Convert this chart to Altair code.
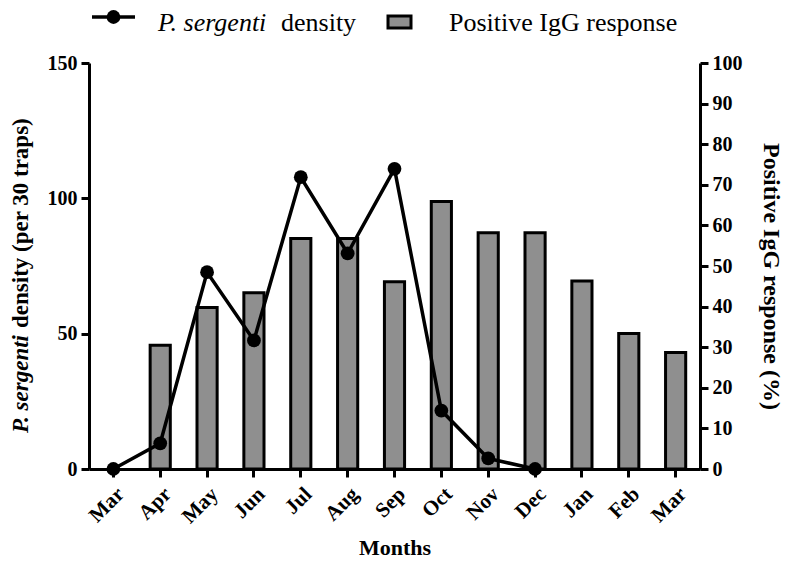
import altair as alt
import pandas as pd

months = ["Mar", "Apr", "May", "Jun", "Jul", "Aug", "Sep", "Oct", "Nov", "Dec", "Jan", "Feb", "Mar"]
density = [0, 9.5, 72.7, 47.5, 107.8, 79.7, 110.9, 21.6, 3.9, 0, None, None, None]
igg = [None, 30.5, 39.8, 43.4, 56.8, 56.8, 46.1, 65.9, 58.2, 58.2, 46.3, 33.4, 28.7]

idx = list(range(len(months)))
df = pd.DataFrame({"i": idx, "month": months, "density": density, "igg": igg})

FONT = "Liberation Serif"
label_expr = "[" + ",".join("'%s'" % m for m in months) + "][datum.value]"

xscale = alt.Scale(paddingInner=0.57, paddingOuter=0.305)
xaxis = alt.Axis(
    title="Months", labelExpr=label_expr, labelAngle=-45, labelFontSize=21,
    labelFontWeight="bold", labelFont=FONT, labelPadding=6,
    titleFontSize=22, titleFont=FONT, titleFontWeight="bold", titlePadding=11,
)

bars = alt.Chart(df).mark_bar(color="#8f8f8f", stroke="black", strokeWidth=3).encode(
    x=alt.X("i:O", scale=xscale, axis=xaxis),
    y=alt.Y("igg:Q", scale=alt.Scale(domain=[0, 100], nice=False),
            axis=alt.Axis(orient="right", values=list(range(0, 101, 10)),
                          title="Positive IgG response (%)", titleAngle=90,
                          titleFontSize=24, titleFont=FONT, titleFontWeight="bold",
                          titlePadding=16, titleBaseline="bottom", titleY=213)),
)

line = alt.Chart(df).mark_line(color="black", strokeWidth=3.5, point=alt.OverlayMarkDef(
    filled=True, color="black", size=190, opacity=1)).encode(
    x=alt.X("i:O", scale=xscale, axis=xaxis),
    y=alt.Y("density:Q", scale=alt.Scale(domain=[0, 150], nice=False),
            axis=alt.Axis(orient="left", values=[0, 50, 100, 150], title=None)),
)

one = pd.DataFrame({"k": [0]})

# left axis title (mixed italic)
lt1 = alt.Chart(one).mark_text(text="P. sergenti", font=FONT, fontSize=23, fontWeight="bold",
                               fontStyle="italic", angle=270, align="left", baseline="middle").encode(
    x=alt.value(-68), y=alt.value(370))
lt2 = alt.Chart(one).mark_text(text="density (per 30 traps)", font=FONT, fontSize=23, fontWeight="bold",
                               angle=270, align="left", baseline="middle").encode(
    x=alt.value(-68), y=alt.value(265))

# legend
leg_rule = alt.Chart(one).mark_rule(color="black", strokeWidth=3.5).encode(
    x=alt.value(3), x2=alt.value(46), y=alt.value(-46))
leg_pt = alt.Chart(one).mark_point(filled=True, color="black", size=190, opacity=1).encode(
    x=alt.value(24.5), y=alt.value(-46))
leg_t1 = alt.Chart(one).mark_text(text="P. sergenti", font=FONT, fontSize=26, fontStyle="italic",
                                  align="left", baseline="alphabetic").encode(
    x=alt.value(69), y=alt.value(-32))
leg_t2 = alt.Chart(one).mark_text(text="density", font=FONT, fontSize=26,
                                  align="left", baseline="alphabetic").encode(
    x=alt.value(192), y=alt.value(-32))
leg_rect = alt.Chart(one).mark_rect(color="#8f8f8f", stroke="black", strokeWidth=3).encode(
    x=alt.value(299), x2=alt.value(322), y=alt.value(-47), y2=alt.value(-35))
leg_t3 = alt.Chart(one).mark_text(text="Positive IgG response", font=FONT, fontSize=26,
                                  align="left", baseline="alphabetic").encode(
    x=alt.value(360), y=alt.value(-32))

chart = alt.layer(bars, line, lt1, lt2, leg_rule, leg_pt, leg_t1, leg_t2, leg_rect, leg_t3).resolve_scale(
    y="independent"
).properties(
    width=611, height=406,
    autosize=alt.AutoSizeParams(type="none"),
    padding={"left": 81, "top": 55, "right": 92, "bottom": 90},
).configure_view(stroke=None).configure_axis(
    domainColor="black", domainWidth=3, tickColor="black", tickWidth=3, tickSize=8,
    labelColor="black", labelFont=FONT, labelFontWeight="bold", labelFontSize=20,
    titleColor="black", grid=False, labelPadding=4,
)

chart.save("out.html", embed_options={"renderer": "svg", "actions": False})
